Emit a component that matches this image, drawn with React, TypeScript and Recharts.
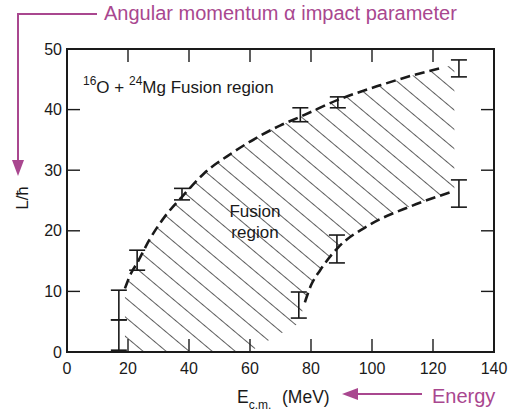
import React from "react";
import {
  ComposedChart,
  Area,
  Line,
  Scatter,
  ErrorBar,
  XAxis,
  YAxis,
  ReferenceArea,
} from "recharts";

// ---- data ----
const xTicks = [0, 20, 40, 60, 80, 100, 120, 140];
const yTicks = [0, 10, 20, 30, 40, 50];

const upperX = [19, 21, 23, 27, 32, 37.7, 45, 54, 62, 70, 76.4, 88.8, 102.6, 113, 123];
const upperL = [10.5, 13, 14.7, 18.5, 22.3, 25.6, 29.5, 32.8, 35.3, 37.4, 38.8, 41.6, 44, 45.6, 46.9];

const lowerX = [78, 80, 83, 88.8, 99.3, 112.5, 126];
const lowerL = [8.2, 11, 13.5, 17.2, 21, 24, 26.4];

const hatchX = [19, 23, 27, 32, 37.7, 45, 54, 60, 62, 70, 76, 78, 80, 83, 88.8, 99.3, 112.5, 123, 127];
const hatchHigh = [10.5, 14.7, 18.5, 22.3, 25.6, 29.5, 32.8, 34.5, 35.3, 37.4, 38.7, 39.2, 39.7, 40.4, 41.6, 43.4, 45.5, 46.9, 47.4];
const hatchLow = [0, 0, 0, 0, 0, 0, 0, 0, 0.7, 3, 5, 8.2, 11, 13.5, 17.2, 21, 24, 25.9, 26.5];

const errX = [17, 17, 23, 37.7, 76.5, 88.8, 128.5, 128.5, 88.5, 76];
const errY = [7.75, 2.8, 15.15, 26.05, 39.15, 41.2, 46.8, 26.15, 17, 7.75];
const errHalf = [2.45, 2.5, 1.65, 0.95, 1.15, 0.9, 1.4, 2.25, 2.3, 2.15];

// ---- tables built from the arrays ----
const hatchData = hatchX.map((x, i) => ({ x, range: [hatchLow[i], hatchHigh[i]] }));
const upperData = upperX.map((x, i) => ({ x, L: upperL[i] }));
const lowerData = lowerX.map((x, i) => ({ x, L: lowerL[i] }));
const errData = errX.map((x, i) => ({ x, y: errY[i], err: errHalf[i] }));

// ---- layout ----
const W = 515;
const H = 413;
const PL = 67;
const PR = 494;
const PT = 49;
const PB = 352;
const YW = 60;
const XH = 30;
const INK = "#1a1a1a";
const MAGENTA = "#a9478f";
const FONT = "'Liberation Sans', Arial, Helvetica, sans-serif";

const XTick = (props: any) => {
  const { x, payload } = props;
  const v = payload.value;
  return (
    <g>
      <text x={x} y={PB + 22} textAnchor="middle" fontFamily={FONT} fontSize={16} fill={INK}>
        {v}
      </text>
      {v > 0 && v < 140 && (
        <g stroke={INK} strokeWidth={1.4}>
          <line x1={x} x2={x} y1={PB} y2={PB - 13} />
          <line x1={x} x2={x} y1={PT} y2={PT + 13} />
        </g>
      )}
    </g>
  );
};

const YTick = (props: any) => {
  const { y, payload } = props;
  const v = payload.value;
  return (
    <g>
      <text x={PL - 5} y={y + 5.5} textAnchor="end" fontFamily={FONT} fontSize={16} fill={INK}>
        {v}
      </text>
      {v > 0 && v < 50 && (
        <g stroke={INK} strokeWidth={1.4}>
          <line x1={PL} x2={PL + 13} y1={y} y2={y} />
          <line x1={PR - 13} x2={PR} y1={y} y2={y} />
        </g>
      )}
    </g>
  );
};

const NoShape = () => <g />;

export default function App() {
  return (
    <div style={{ position: "absolute", left: 0, top: 0, width: W, height: H, background: "#fff" }}>
      <ComposedChart
        width={W}
        height={H}
        data={hatchData}
        margin={{ top: PT, right: W - PR, bottom: H - PB - XH, left: PL - YW }}
      >
        <defs>
          <pattern
            id="hatch"
            patternUnits="userSpaceOnUse"
            width={14.8}
            height={14.8}
            patternTransform="rotate(-50)"
          >
            <line x1={0} y1={0} x2={0} y2={14.8} stroke={INK} strokeWidth={1.4} />
          </pattern>
        </defs>
        <XAxis
          type="number"
          dataKey="x"
          domain={[0, 140]}
          ticks={xTicks}
          height={XH}
          axisLine={false}
          tickLine={false}
          tickSize={0}
          tick={XTick}
          interval={0}
          allowDataOverflow
        />
        <YAxis
          type="number"
          domain={[0, 50]}
          ticks={yTicks}
          width={YW}
          axisLine={false}
          tickLine={false}
          tickSize={0}
          tick={YTick}
          interval={0}
          allowDataOverflow
        />
        <Area
          dataKey="range"
          type="monotone"
          stroke="none"
          fill="url(#hatch)"
          fillOpacity={1}
          isAnimationActive={false}
          dot={false}
          activeDot={false}
        />
        <Line
          data={upperData}
          dataKey="L"
          type="monotone"
          stroke={INK}
          strokeWidth={2.6}
          strokeDasharray="10 5"
          dot={false}
          activeDot={false}
          isAnimationActive={false}
        />
        <Line
          data={lowerData}
          dataKey="L"
          type="monotone"
          stroke={INK}
          strokeWidth={2.6}
          strokeDasharray="10 5"
          dot={false}
          activeDot={false}
          isAnimationActive={false}
        />
        <Scatter data={errData} dataKey="y" shape={NoShape} isAnimationActive={false}>
          <ErrorBar dataKey="err" direction="y" width={8} stroke={INK} strokeWidth={1.6} />
        </Scatter>
        <ReferenceArea
          x1={0}
          x2={140}
          y1={0}
          y2={50}
          fill="none"
          fillOpacity={0}
          stroke={INK}
          strokeWidth={2}
        />
      </ComposedChart>
      <svg
        width={W}
        height={H}
        style={{ position: "absolute", left: 0, top: 0, pointerEvents: "none" }}
      >
        {/* in-plot texts */}
        <text x={83} y={93} fontFamily={FONT} fontSize={17} fill={INK}>
          <tspan fontSize={12} dy={-8}>16</tspan>
          <tspan dy={8}>O + </tspan>
          <tspan fontSize={12} dy={-8}>24</tspan>
          <tspan dy={8}>Mg Fusion region</tspan>
        </text>
        <text x={255} y={217} textAnchor="middle" fontFamily={FONT} fontSize={17} fill={INK}>
          Fusion
        </text>
        <text x={255} y={238} textAnchor="middle" fontFamily={FONT} fontSize={17} fill={INK}>
          region
        </text>
        {/* axis titles */}
        <text
          x={28}
          y={198}
          textAnchor="middle"
          fontFamily={FONT}
          fontSize={17}
          fill={INK}
          transform="rotate(-90 28 198)"
        >
          L/ħ
        </text>
        <text x={237} y={403} fontFamily={FONT} fontSize={17.5} fill={INK}>
          E
          <tspan fontSize={12} dy={6}>c.m.</tspan>
        </text>
        <text x={282} y={403} fontFamily={FONT} fontSize={17.5} fill={INK}>
          (MeV)
        </text>
        {/* magenta annotations */}
        <text x={104} y={20} fontFamily={FONT} fontSize={20} fill={MAGENTA}>
          Angular momentum α impact parameter
        </text>
        <polyline points="97,14 18,14 18,162" fill="none" stroke={MAGENTA} strokeWidth={2} />
        <polygon points="12,160 24,160 18,176" fill={MAGENTA} />
        <text x={432} y={403} fontFamily={FONT} fontSize={20} fill={MAGENTA}>
          Energy
        </text>
        <line x1={355} y1={394} x2={422} y2={394} stroke={MAGENTA} strokeWidth={2} />
        <polygon points="342,394 358,388 358,400" fill={MAGENTA} />
      </svg>
    </div>
  );
}
